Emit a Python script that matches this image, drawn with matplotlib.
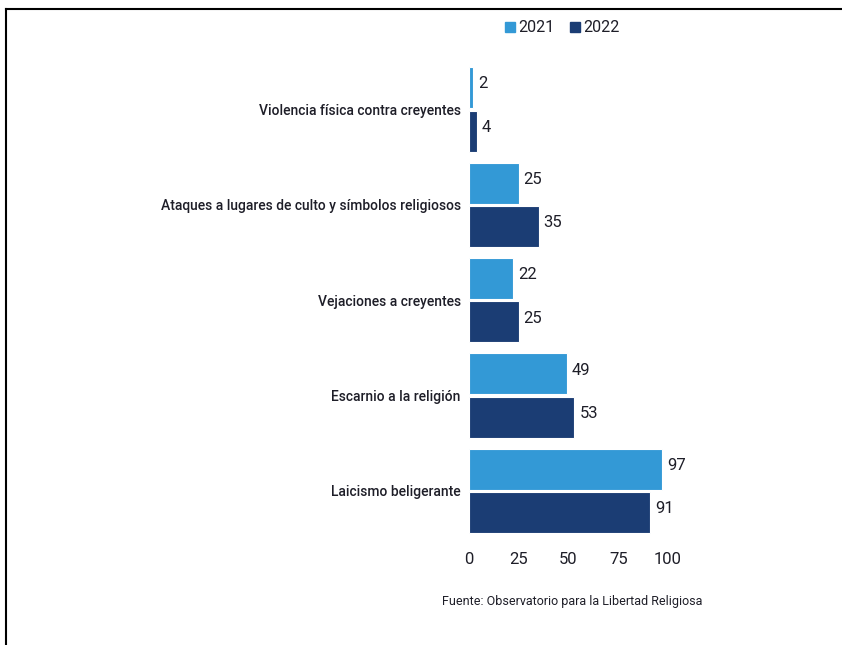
import matplotlib.pyplot as plt
from matplotlib.lines import Line2D

categories = ["Violencia física contra creyentes",
              "Ataques a lugares de culto y símbolos religiosos",
              "Vejaciones a creyentes",
              "Escarnio a la religión",
              "Laicismo beligerante"]
vals_2021 = [2, 25, 22, 49, 97]
vals_2022 = [4, 35, 25, 53, 91]
years = ["2021", "2022"]
xticks = [0, 25, 50, 75, 100]

c21 = "#3399d6"
c22 = "#1b3d74"
txt = "#1e1e28"

plt.rcParams['font.family'] = ['Roboto', 'DejaVu Sans']

fig = plt.figure(figsize=(8.42, 6.45), dpi=100)
ax = fig.add_axes([469 / 842, 105 / 645, 199 / 842, 480 / 645])

pos = list(range(len(categories)))
h = 0.43
off = 0.228
b1 = ax.barh([p - off for p in pos], vals_2021, height=h, color=c21,
             edgecolor="white", linewidth=0.8)
b2 = ax.barh([p + off for p in pos], vals_2022, height=h, color=c22,
             edgecolor="white", linewidth=0.8)

for bars, vals in ((b1, vals_2021), (b2, vals_2022)):
    for b, v in zip(bars, vals):
        ax.text(v + 2.5, b.get_y() + b.get_height() / 2 - 0.04, str(v),
                va="center", ha="left", fontsize=12, color=txt, clip_on=False)

ax.set_xlim(0, 100)
ax.set_ylim(4.514, -0.519)
ax.set_xticks(xticks)
ax.set_xticklabels([str(t) for t in xticks], fontsize=12, color=txt)
ax.set_yticks(pos)
ax.set_yticklabels(categories, fontsize=10, color=txt, fontweight="medium")
ax.tick_params(axis="both", length=0)
ax.tick_params(axis="y", pad=6)
ax.tick_params(axis="x", pad=9)
for s in ax.spines.values():
    s.set_visible(False)

handles = [Line2D([], [], marker="s", linestyle="none", markersize=6.5,
                  color=c21),
           Line2D([], [], marker="s", linestyle="none", markersize=6.5,
                  color=c22)]
fig.legend(handles, years, loc="center", bbox_to_anchor=(562 / 842, 1 - 28 / 645),
           ncol=2, frameon=False, fontsize=11.5, handletextpad=0.2,
           columnspacing=0.9, handlelength=0.7, labelcolor=txt)

fig.text(572 / 842, 1 - 601 / 645, "Fuente: Observatorio para la Libertad Religiosa",
         ha="center", va="center", fontsize=9, color=txt)

# frame lines (top and left)
fig.add_artist(Line2D([6 / 842, 1], [1 - 9 / 645, 1 - 9 / 645], color="black", lw=1.5))
fig.add_artist(Line2D([6 / 842, 6 / 842], [0, 1 - 9 / 645], color="black", lw=1.5))

fig.savefig("out.png", dpi=100)
